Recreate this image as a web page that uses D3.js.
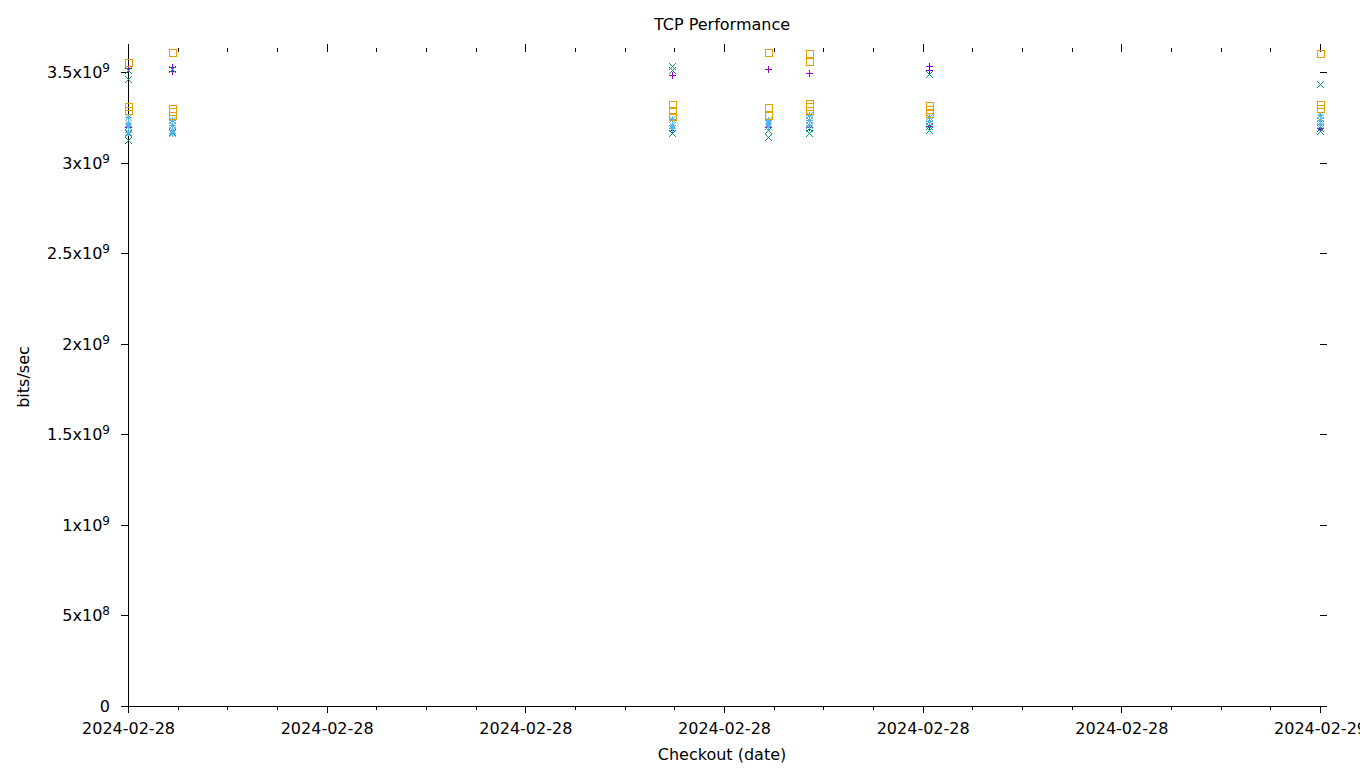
<!DOCTYPE html>
<html>
<head>
<meta charset="utf-8">
<script src="https://cdn.jsdelivr.net/npm/d3@7"></script>
<style>
  body { margin: 0; background: #fff; }
  text { font-family: "DejaVu Sans", sans-serif; fill: #000; }
  line, path { shape-rendering: crispEdges; }
</style>
</head>
<body>
<script>
// checkout dates (x positions)
var checkouts = ["2024-02-28T00:00", "2024-02-28T00:53", "2024-02-28T10:57",
                 "2024-02-28T12:53", "2024-02-28T13:43", "2024-02-28T16:08",
                 "2024-02-29T00:00"];

// values in units of 1e9 bits/sec, one list per checkout
var purpleVals = [[3.52, 3.196], [3.528, 3.505], [3.483, 3.18], [3.517, 3.196],
                  [3.495, 3.196], [3.533, 3.511, 3.2], [3.21, 3.19]];
var greenVals  = [[3.51, 3.46, 3.163, 3.125], [3.516, 3.18, 3.17], [3.533, 3.511, 3.163],
                  [3.18, 3.14], [3.19, 3.163], [3.489, 3.2, 3.18], [3.434, 3.19, 3.174]];
var blueVals   = [[3.25, 3.22, 3.2, 3.17], [3.235, 3.207, 3.18, 3.165], [3.24, 3.207, 3.19],
                  [3.235, 3.22, 3.2], [3.26, 3.235, 3.207], [3.25, 3.23], [3.26, 3.235, 3.21]];
var orangeVals = [[3.555, 3.31, 3.29], [3.61, 3.3, 3.285, 3.26], [3.323, 3.29, 3.257],
                  [3.61, 3.307, 3.263], [3.605, 3.56, 3.33, 3.31, 3.29], [3.318, 3.296, 3.274],
                  [3.605, 3.323, 3.30]];

var yTicks = [0, 0.5e9, 1e9, 1.5e9, 2e9, 2.5e9, 3e9, 3.5e9];

function draw() {
  var W = 1360, H = 768;
  var margin = {top: 52, right: 40, bottom: 62, left: 128};
  var pL = margin.left, pR = W - margin.right, pT = margin.top, pB = H - margin.bottom;
  var fs = 16;

  var svg = d3.select("body").append("svg")
      .attr("width", W).attr("height", H);

  var parse = d3.timeParse("%Y-%m-%dT%H:%M");
  var dates = checkouts.map(parse);

  var x = d3.scaleTime()
      .domain([parse("2024-02-28T00:00"), parse("2024-02-29T00:00")])
      .range([pL, pR]);
  var y = d3.scaleLinear()
      .domain([0, 3.61e9])
      .range([pB, pT]);

  var fmtDate = d3.timeFormat("%Y-%m-%d");
  var majorX = d3.timeHour.every(4).range(x.domain()[0], +x.domain()[1] + 1);
  var minorX = d3.timeHour.every(1).range(x.domain()[0], +x.domain()[1] + 1);

  // axis lines (extended by tick length like the original)
  svg.append("line").attr("x1", pL).attr("x2", pR + 7)
      .attr("y1", pB + 0.5).attr("y2", pB + 0.5).attr("stroke", "#000");
  svg.append("line").attr("x1", pL + 0.5).attr("x2", pL + 0.5)
      .attr("y1", pB).attr("y2", pT - 8).attr("stroke", "#000");

  // bottom ticks
  var gx = svg.append("g").attr("transform", "translate(0," + pB + ")")
      .call(d3.axisBottom(x).tickValues(majorX).tickSize(7).tickSizeOuter(0)
            .tickFormat(fmtDate).tickPadding(10));
  gx.select(".domain").remove();
  gx.selectAll("text").attr("font-size", fs).attr("font-family", "DejaVu Sans").attr("fill", "#000");
  svg.append("g").attr("transform", "translate(0," + pB + ")")
      .call(d3.axisBottom(x).tickValues(minorX).tickSize(4).tickFormat(""))
      .select(".domain").remove();

  // top mirrored ticks
  svg.append("g").attr("transform", "translate(0," + pT + ")")
      .call(d3.axisTop(x).tickValues(majorX).tickSize(8).tickFormat(""))
      .select(".domain").remove();
  svg.append("g").attr("transform", "translate(0," + pT + ")")
      .call(d3.axisTop(x).tickValues(minorX).tickSize(4).tickFormat(""))
      .select(".domain").remove();

  // left ticks with custom labels
  var gy = svg.append("g").attr("transform", "translate(" + pL + ",0)")
      .call(d3.axisLeft(y).tickValues(yTicks).tickSize(7).tickFormat(""));
  gy.select(".domain").remove();

  yTicks.forEach(function(v) {
    var t = svg.append("text")
        .attr("x", 110).attr("y", y(v) + 6)
        .attr("text-anchor", "end")
        .attr("font-size", fs);
    if (v === 0) { t.text("0"); return; }
    var e = Math.floor(Math.log10(v));
    var m = +(v / Math.pow(10, e)).toFixed(1);
    t.append("tspan").text(m + "x10");
    t.append("tspan").attr("dy", -6).attr("font-size", 12).text(e);
  });

  // right mirrored ticks
  svg.append("g").attr("transform", "translate(" + pR + ",0)")
      .call(d3.axisRight(y).tickValues(yTicks.slice(1)).tickSize(7).tickFormat(""))
      .select(".domain").remove();

  svg.selectAll(".tick line").attr("stroke", "#000");

  // labels
  svg.append("text").attr("x", 722).attr("y", 30).attr("text-anchor", "middle")
      .attr("font-size", fs).text("TCP Performance");
  svg.append("text").attr("x", 722).attr("y", 760).attr("text-anchor", "middle")
      .attr("font-size", fs).text("Checkout (date)");
  svg.append("text").attr("transform", "translate(29,377) rotate(-90)")
      .attr("text-anchor", "middle").attr("font-size", fs).text("bits/sec");

  // points
  function flat(vals) {
    var out = [];
    vals.forEach(function(list, i) {
      list.forEach(function(v) { out.push({d: dates[i], v: v * 1e9}); });
    });
    return out;
  }

  var s = 3.5;
  var plusPath = "M" + (-s) + ",0H" + s + "M0," + (-s) + "V" + s;
  var crossPath = "M" + (-s) + "," + (-s) + "L" + s + "," + s + "M" + (-s) + "," + s + "L" + s + "," + (-s);
  var squarePath = "M" + (-s) + "," + (-s) + "H" + s + "V" + s + "H" + (-s) + "Z";

  var series = [
    {vals: purpleVals, color: "#9400d3", path: plusPath},
    {vals: greenVals,  color: "#009e73", path: crossPath},
    {vals: blueVals,   color: "#56b4e9", path: plusPath + crossPath},
    {vals: orangeVals, color: "#e69f00", path: squarePath}
  ];

  series.forEach(function(sr) {
    svg.append("g").selectAll("path").data(flat(sr.vals)).enter().append("path")
        .attr("transform", function(d) {
          return "translate(" + (Math.round(x(d.d)) + 0.5) + "," + (Math.round(y(d.v)) + 0.5) + ")";
        })
        .attr("d", sr.path)
        .attr("fill", "none")
        .attr("stroke", sr.color)
        .attr("stroke-width", 1);
  });
}

draw();
</script>
</body>
</html>
